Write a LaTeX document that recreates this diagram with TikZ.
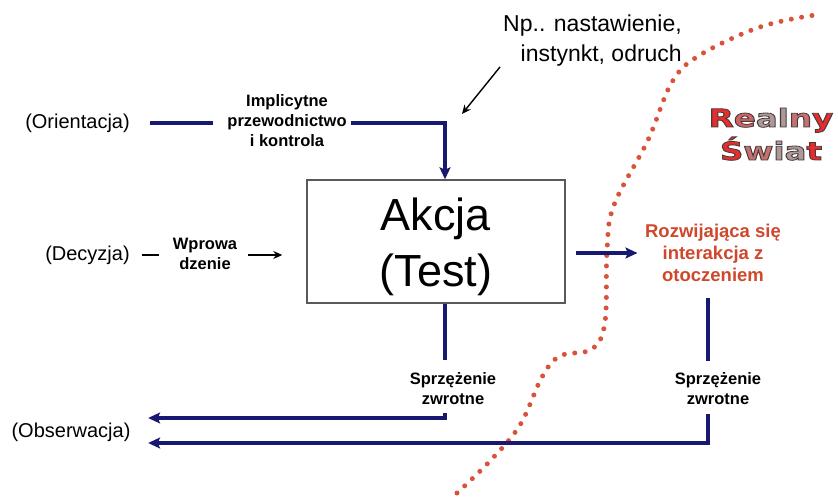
\documentclass[tikz,border=0pt]{standalone}
\usepackage{fontspec}
\setmainfont{Liberation Sans}
\newfontfamily\swiatfont{DejaVu Sans}
\usetikzlibrary{arrows.meta}

\definecolor{granat}{RGB}{24,24,112}
\definecolor{ceglasty}{RGB}{208,72,44}
\definecolor{kropki}{RGB}{218,82,58}
\definecolor{rsA}{RGB}{230,45,45}
\definecolor{rsB}{RGB}{208,100,100}
\definecolor{rsC}{RGB}{175,152,152}
\definecolor{rsD}{RGB}{198,112,112}
% litera z cienkim ciemnym obrysem
\newcommand\obr[2]{\textcolor{#1}{\special{pdf:literal direct 0.27 0.23 0.23 RG}#2}}
\newcommand\obrysON{\special{pdf:literal direct 2 Tr 0.8 w}}
\newcommand\obrysOFF{\special{pdf:literal direct 0 Tr}}
\newcommand\realnyslowo{\obrysON\obr{rsA}{R}\obr{rsB}{e}\obr{rsC}{a}\obr{rsC}{l}\obr{rsD}{n}\obr{rsA}{y}\obrysOFF}
\newcommand\swiatslowo{\obrysON\obr{rsA}{Ś}\obr{rsD}{w}\obr{rsC}{i}\obr{rsC}{a}\obr{rsA}{t}\obrysOFF}

\begin{document}
\begin{tikzpicture}[x=1pt,y=-1pt,
    lbl/.style={font=\fontsize{20}{24}\selectfont,inner sep=0pt},
    sml/.style={font=\bfseries\fontsize{16.5}{20}\selectfont,align=center,inner sep=0pt},
    blu/.style={draw=granat,line width=3.2pt},
    bluar/.style={blu,-{Stealth[length=12pt,width=11pt,inset=2.5pt]}},
    blkar/.style={draw=black,line width=1.4pt,-{Stealth[length=9pt,width=8pt]}},
    swiat/.style={font=\swiatfont\bfseries\fontsize{25}{30}\selectfont,inner sep=0pt,anchor=base}]
  \useasboundingbox (0,0) rectangle (838,497);
  % granica swiata realnego (kropki)
  \draw[kropki,line width=5pt,line cap=round,dash pattern=on 0pt off 10.5pt]
    plot[smooth,tension=0.6] coordinates {(457,493) (490,461) (520,425) (542,377) (560,356)
      (592,349) (605,322) (607,250) (614,205) (648,140) (672,82) (700,55) (760,27) (815,15)};

  \node[draw=black!65,line width=1.4pt,minimum width=258pt,minimum height=123pt] (akcja) at (436,241.5) {};
  \node[align=center,inner sep=0pt,font=\fontsize{45}{56}\selectfont] (akcjatxt) at (436,247) {Akcja\\(Test)};

  \node[lbl] (orient) at (77.5,123) {(Orientacja)};
  \node[lbl] (decyz) at (87.5,255) {(Decyzja)};
  \node[lbl] (obserw) at (71,432) {(Obserwacja)};
  \node[sml] (impl) at (287,121) {Implicytne\\przewodnictwo\\i kontrola};
  \node[sml] (wprow) at (205,254) {Wprowa\\dzenie};
  \node[sml] (sprza) at (453,389) {Sprzężenie\\zwrotne};
  \node[sml] (sprzb) at (718,389) {Sprzężenie\\zwrotne};
  \node[sml,text=ceglasty,font=\bfseries\fontsize{18.5}{22}\selectfont] (interakcja) at (713,253)
    {Rozwijająca się\\interakcja z\\otoczeniem};
  \node[align=right,inner sep=0pt,anchor=east,font=\fontsize{23}{30}\selectfont] (np) at (682,41)
    {Np.. nastawienie,\\instynkt, odruch};

  \node[swiat] (realny) at (771,127) {\scalebox{1.3}[1]{\realnyslowo}};
  \node[swiat] (swiatw) at (771,160) {\scalebox{1.3}[1]{\swiatslowo}};

  \coordinate (npgrot) at (462,114);
  \coordinate (sb) at (445,418);
  \coordinate (pr) at (708,298);
  \coordinate (pb) at (708,443);

  \draw[blu] ([xshift=20.5pt]orient.east) -- ([xshift=-14pt]impl.west |- orient.east);
  \draw[bluar] ([xshift=4pt]impl.east |- orient.east) -| ([xshift=9pt]akcja.north);
  \draw[line width=1.4pt] ([xshift=12pt]decyz.east) -- ([xshift=-14pt]wprow.west |- decyz.east);
  \draw[blkar] ([xshift=11pt]wprow.east |- decyz.east) -- ([xshift=-24pt]akcja.west |- decyz.east);
  \draw[blkar] ([xshift=-3pt]np.south west) -- (npgrot);
  \draw[bluar] ([xshift=10pt]akcja.east |- interakcja.west) -- ([xshift=-7.5pt]interakcja.west);
  \draw[blu] ([xshift=9pt]akcja.south) -- ([yshift=13pt]sprza.north -| sb);
  \draw[bluar] ([yshift=-8pt]sprza.south -| sb) -- (sb) -- ([xshift=17.5pt]obserw.east |- sb);
  \draw[blu] (pr) -- ([yshift=12pt]sprzb.north -| pr);
  \draw[bluar] ([yshift=-9pt]sprzb.south -| pb) -- (pb) -- ([xshift=17.5pt]obserw.east |- pb);
\end{tikzpicture}
\end{document}
